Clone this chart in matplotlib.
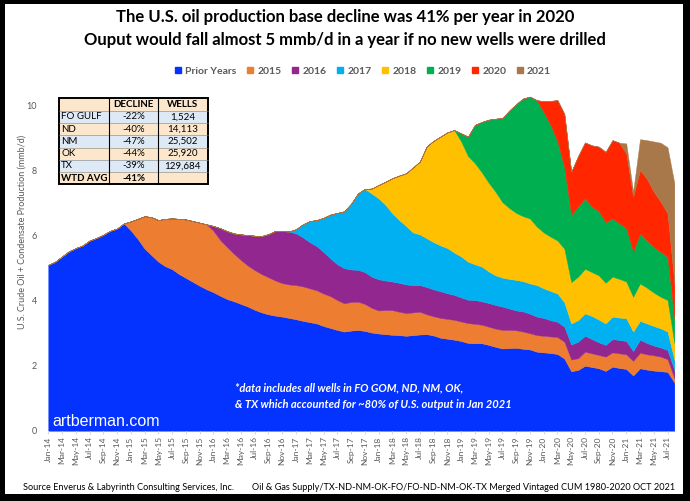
import numpy as np
import pandas as pd
import matplotlib
matplotlib.use('Agg')
import matplotlib.pyplot as plt
from matplotlib.patches import Rectangle, Patch

plt.rcParams['font.family'] = ['Lato', 'DejaVu Sans']

# monthly categories, Jan-14 .. Aug-21
months = pd.date_range('2014-01-01', periods=92, freq='MS').strftime('%b-%y').tolist()

vintages = ['Prior Years', '2015', '2016', '2017', '2018', '2019', '2020', '2021']
colors = ['#0433FF', '#ED7D31', '#92278F', '#00B0F0', '#FFC000', '#00B050', '#FF2600', '#A9784A']

# production by vintage (mmb/d); each list runs up to Aug-21
prior_years = [5.10, 5.20, 5.36, 5.52, 5.62, 5.70, 5.85, 5.93, 6.03, 6.15, 6.22, 6.38,
               6.16, 5.90, 5.60, 5.40, 5.20, 5.06, 4.97, 4.82, 4.70, 4.58, 4.46, 4.35,
               4.26, 4.15, 4.05, 3.98, 3.90, 3.82, 3.72, 3.64, 3.58, 3.54, 3.51, 3.47,
               3.43, 3.38, 3.34, 3.30, 3.22, 3.16, 3.10, 3.05, 3.08, 3.10, 3.07, 3.02,
               2.99, 2.97, 2.95, 2.94, 2.92, 2.94, 2.96, 2.97, 2.93, 2.86, 2.83, 2.80,
               2.76, 2.70, 2.69, 2.69, 2.64, 2.58, 2.53, 2.54, 2.55, 2.52, 2.50, 2.43,
               2.41, 2.39, 2.36, 2.22, 1.83, 1.87, 2.00, 1.96, 1.92, 1.84, 1.97, 1.93,
               1.90, 1.70, 1.92, 1.88, 1.85, 1.83, 1.81, 1.48]
v2015 = [0.28, 0.62, 1.00, 1.17, 1.28, 1.46, 1.56, 1.70, 1.80, 1.87, 1.94, 2.00,
         1.89, 1.71, 1.60, 1.46, 1.35, 1.26, 1.22, 1.18, 1.14, 1.08, 1.03, 1.03,
         1.05, 1.06, 1.04, 1.02, 1.00, 0.98, 0.92, 0.87, 0.88, 0.87, 0.83, 0.76,
         0.71, 0.74, 0.76, 0.72, 0.70, 0.70, 0.70, 0.61, 0.59, 0.61, 0.61, 0.61,
         0.60, 0.61, 0.60, 0.57, 0.56, 0.56, 0.57, 0.56, 0.54, 0.53, 0.50, 0.51,
         0.51, 0.51, 0.52, 0.52, 0.36, 0.36, 0.43, 0.42, 0.41, 0.44, 0.44, 0.45,
         0.45, 0.45, 0.48, 0.47, 0.47, 0.45, 0.39, 0.13]
v2016 = [0.15, 0.37, 0.49, 0.63, 0.79, 0.94, 1.06, 1.17, 1.33, 1.53, 1.60, 1.63,
         1.59, 1.51, 1.42, 1.36, 1.28, 1.16, 1.10, 1.08, 1.00, 0.98, 0.98, 0.96,
         0.96, 0.91, 0.88, 0.89, 0.88, 0.84, 0.82, 0.84, 0.83, 0.82, 0.79, 0.77,
         0.74, 0.72, 0.73, 0.72, 0.73, 0.73, 0.72, 0.66, 0.61, 0.62, 0.60, 0.57,
         0.55, 0.50, 0.47, 0.46, 0.46, 0.51, 0.49, 0.44, 0.39, 0.36, 0.41, 0.41,
         0.41, 0.30, 0.40, 0.35, 0.30, 0.28, 0.28, 0.26]
v2017 = [0.13, 0.40, 0.65, 0.80, 1.05, 1.35, 1.58, 1.75, 2.02, 2.35, 2.56, 2.56,
         2.49, 2.33, 2.10, 1.93, 1.80, 1.62, 1.56, 1.50, 1.45, 1.41, 1.39, 1.30,
         1.26, 1.17, 1.10, 1.07, 0.97, 0.91, 0.89, 0.91, 0.94, 0.93, 0.93, 0.97,
         0.91, 0.90, 0.87, 0.75, 0.65, 0.66, 0.69, 0.71, 0.70, 0.66, 0.69, 0.69,
         0.70, 0.60, 0.58, 0.60, 0.60, 0.59, 0.57, 0.31]
v2018 = [0.15, 0.41, 0.71, 1.08, 1.37, 1.62, 2.00, 2.24, 2.83, 3.12, 3.35, 3.56, 3.77,
         3.54, 3.25, 3.11, 2.90, 2.73, 2.57, 2.32, 2.18, 2.06, 2.00, 2.00, 1.80,
         1.72, 1.67, 1.63, 1.65, 1.27, 1.34, 1.37, 1.35, 1.36, 1.25, 1.23, 1.19,
         1.13, 1.07, 1.15, 1.10, 1.03, 0.97, 0.97, 0.51]
v2019 = [0.25, 0.60, 1.18, 1.55, 1.94, 2.25, 2.59, 3.00, 3.35, 3.62, 3.75, 3.89,
         3.70, 3.43, 3.05, 2.50, 2.07, 2.16, 2.17, 2.02, 1.97, 1.87, 1.79, 1.71,
         1.64, 1.39, 1.54, 1.45, 1.40, 1.38, 1.33, 0.77]
v2020 = [0.34, 0.75, 1.27, 1.65, 1.33, 1.55, 1.72, 1.88, 1.99, 2.16,
         2.41, 2.48, 2.30, 1.69, 1.95, 1.90, 1.70, 1.55, 1.34, 1.07]
v2021 = [0.31, 0.15, 0.95, 1.19, 1.55, 1.81, 2.03, 3.08]

# decline table
tbl_header = ['', 'DECLINE', 'WELLS']
tbl_areas = ['FO GULF', 'ND', 'NM', 'OK', 'TX', 'WTD AVG']
tbl_decline = ['-22%', '-40%', '-47%', '-44%', '-39%', '-41%']
tbl_wells = ['1,524', '14,113', '25,502', '25,920', '129,684', '']


def pad(vals):
    return [0.0] * (len(months) - len(vals)) + vals


series = [pad(v) for v in (prior_years, v2015, v2016, v2017, v2018, v2019, v2020, v2021)]

W, H = 690, 501
fig = plt.figure(figsize=(W / 100, H / 100), dpi=100)
fig.patch.set_facecolor('black')
fig.add_artist(Rectangle((5 / W, 7 / H), 678 / W, 490 / H, transform=fig.transFigure,
                         facecolor='white', edgecolor='none', zorder=-5))

# main chart
ax = fig.add_axes([48.3 / W, 1 - 430.7 / H, (674.4 - 48.3) / W, (430.7 - 86.2) / H])
x = np.arange(len(months))
polys = ax.stackplot(x, *series, colors=colors, labels=vintages, lw=0.3)
for p, c in zip(polys, colors):
    p.set_edgecolor(c)
ax.set_xlim(0, len(months) - 1)
ax.set_ylim(0, 10.6)
ax.set_yticks(range(0, 11, 2))
ax.set_xticks(x[::2])
ax.set_xticklabels(months[::2], rotation=90)
ax.tick_params(axis='y', length=0, pad=8, labelsize=6.5, labelcolor='#595959')
ax.tick_params(axis='x', length=2, color='#d9d9d9', pad=2, labelsize=6, labelcolor='#595959')
for s in ax.spines.values():
    s.set_visible(False)
ax.patch.set_alpha(0)

fig.text(345 / W, 1 - 17 / H, 'The U.S. oil production base decline was 41% per year in 2020',
         ha='center', va='center', fontsize=12, fontweight='bold')
fig.text(345 / W, 1 - 40 / H, 'Ouput would fall almost 5 mmb/d in a year if no new wells were drilled',
         ha='center', va='center', fontsize=12, fontweight='bold')

fig.legend(handles=[Patch(color=c) for c in colors], labels=vintages, loc='center',
           bbox_to_anchor=(363 / W, 1 - 71 / H), ncol=8, frameon=False,
           prop={'size': 7.5, 'weight': 'bold'}, labelcolor='#595959',
           handlelength=0.6, handleheight=0.6, handletextpad=0.4, columnspacing=1.0)

fig.text(22 / W, 1 - 232 / H, 'U.S. Crude Oil + Condensate Production (mmb/d)', rotation=90,
         ha='center', va='center', fontsize=6.5, color='#595959')

# overlay in pixel coords for table and notes
ov = fig.add_axes([0, 0, 1, 1], zorder=5)
ov.set_xlim(0, W)
ov.set_ylim(H, 0)
ov.axis('off')
ov.patch.set_alpha(0)

col_edges = [59.3, 109.3, 157.7, 207.7]
top, row_h = 98.3, 12.3
rows = [tbl_header] + [list(r) for r in zip(tbl_areas, tbl_decline, tbl_wells)]
for i, row in enumerate(rows):
    y0 = top + i * row_h
    fill = '#FCE7CC' if i % 2 == 0 else '#DDEAF6'
    bold = i == 0 or row[0] == 'WTD AVG'
    for j, val in enumerate(row):
        ov.add_patch(Rectangle((col_edges[j], y0), col_edges[j + 1] - col_edges[j], row_h,
                               facecolor=fill, edgecolor='none'))
        if j == 0:
            ov.text(col_edges[0] + 2, y0 + row_h / 2, val, ha='left', va='center',
                    fontsize=7, fontweight='bold' if bold else 'normal')
        else:
            ov.text((col_edges[j] + col_edges[j + 1]) / 2, y0 + row_h / 2, val, ha='center',
                    va='center', fontsize=7, fontweight='bold' if bold else 'normal')
    if i > 0:
        ov.plot([col_edges[0], col_edges[-1]], [y0, y0], color='#7f7f7f', lw=0.4)
bottom = top + len(rows) * row_h
for xe in col_edges[1:-1]:
    ov.plot([xe, xe], [top, bottom], color='black', lw=0.8)
ov.add_patch(Rectangle((col_edges[0], top), col_edges[-1] - col_edges[0], bottom - top,
                       facecolor='none', edgecolor='black', lw=1.4))

ov.text(52.5, 421.5, 'artberman.com', color='white', fontsize=11.5, family='Liberation Sans',
        ha='left', va='center')
ov.text(235, 388.3, '*data includes all wells in FO GOM, ND, NM, OK,', color='white',
        style='italic', fontweight='bold', fontsize=8, ha='left', va='center')
ov.text(235, 404, '& TX which accounted for ~80% of U.S. output in Jan 2021', color='white',
        style='italic', fontweight='bold', fontsize=8, ha='left', va='center')

ov.text(23, 487.3, 'Source Enverus & Labyrinth Consulting Services, Inc.', fontsize=6.6,
        ha='left', va='center')
ov.text(675, 487.3, 'Oil & Gas Supply/TX-ND-NM-OK-FO/FO-ND-NM-OK-TX Merged Vintaged CUM 1980-2020 OCT 2021',
        fontsize=6.6, ha='right', va='center')

fig.savefig('out.png', dpi=100, facecolor=fig.get_facecolor())
